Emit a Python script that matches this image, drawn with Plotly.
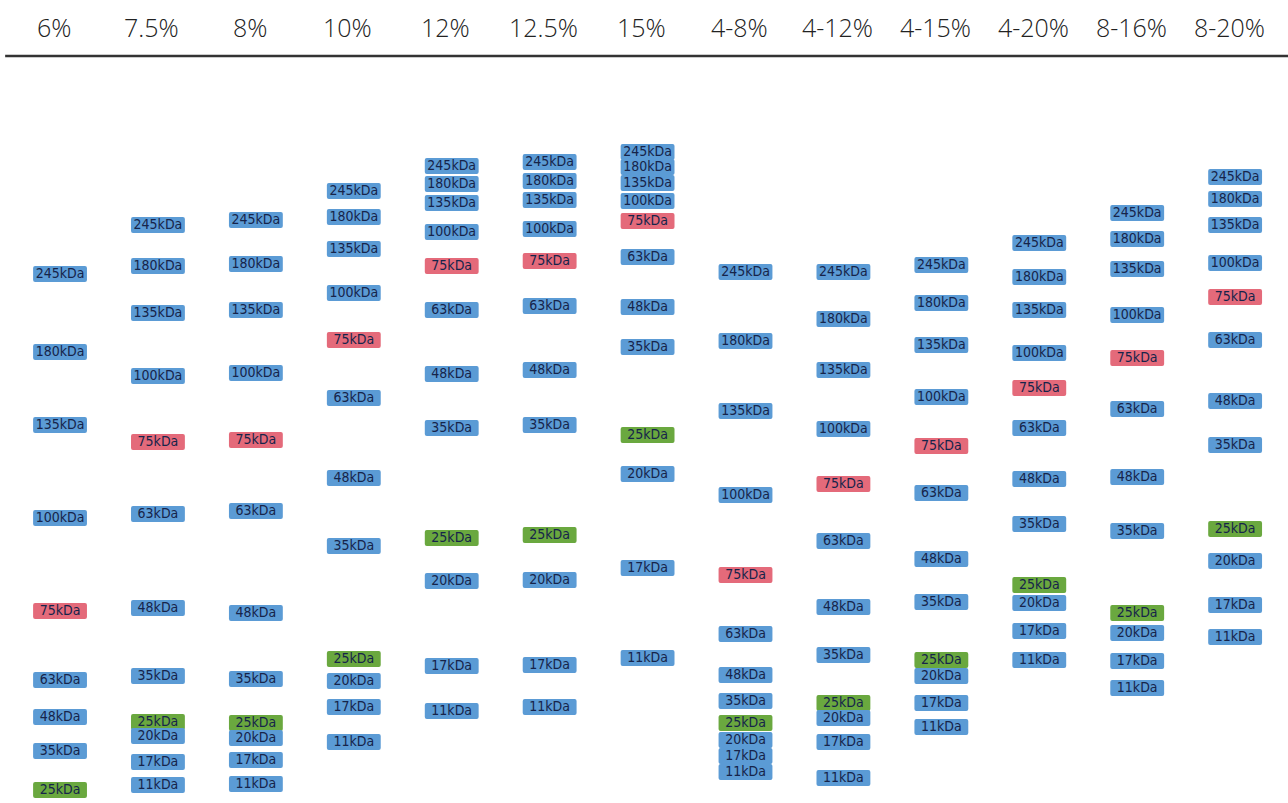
import plotly.graph_objects as go

gels = ["6%", "7.5%", "8%", "10%", "12%", "12.5%", "15%",
        "4-8%", "4-12%", "4-15%", "4-20%", "8-16%", "8-20%"]

markers = ["245kDa", "180kDa", "135kDa", "100kDa", "75kDa", "63kDa",
           "48kDa", "35kDa", "25kDa", "20kDa", "17kDa", "11kDa"]

# migration distance of each band below the gel top (px-like units)
mig_6 = [218, 296, 369, 462, 555, 624, 661, 695, 734, None, None, None]
mig_7_5 = [169, 210, 257, 320, 386, 458, 552, 620, 666, 680, 706, 729]
mig_8 = [164, 208, 254, 317, 384, 455, 557, 623, 667, 682, 704, 728]
mig_10 = [135, 161, 193, 237, 284, 342, 422, 490, 603, 625, 651, 686]
mig_12 = [110, 128, 147, 176, 210, 254, 318, 372, 482, 525, 610, 655]
mig_12_5 = [106, 125, 144, 173, 205, 250, 314, 369, 479, 524, 609, 651]
mig_15 = [96, 111, 127, 145, 165, 201, 251, 291, 379, 418, 512, 602]
mig_4_8 = [216, 285, 355, 439, 519, 578, 619, 645, 667, 684, 700, 716]
mig_4_12 = [216, 263, 314, 373, 428, 485, 551, 599, 647, 662, 686, 722]
mig_4_15 = [209, 247, 289, 341, 390, 437, 503, 546, 604, 620, 647, 671]
mig_4_20 = [187, 221, 254, 297, 332, 372, 423, 468, 529, 547, 575, 604]
mig_8_16 = [157, 183, 213, 259, 302, 353, 421, 475, 557, 577, 605, 632]
mig_8_20 = [121, 143, 169, 207, 241, 284, 345, 389, 473, 505, 549, 581]

migrations = [mig_6, mig_7_5, mig_8, mig_10, mig_12, mig_12_5, mig_15,
              mig_4_8, mig_4_12, mig_4_15, mig_4_20, mig_8_16, mig_8_20]

BLUE = "#5B9BD5"
RED = "#E46A7A"
GREEN = "#6AA83F"
color_of = {"75kDa": RED, "25kDa": GREEN}

BOX_H = 16

xs, ys, labels, cols = [], [], [], []
for gel, mig in zip(gels, migrations):
    for m, v in zip(markers, mig):
        if v is None:
            continue
        xs.append(gel)
        ys.append(v)
        labels.append(m)
        cols.append(color_of.get(m, BLUE))

fig = go.Figure()
fig.add_trace(go.Bar(
    x=xs, y=[BOX_H] * len(ys), base=[v - BOX_H / 2 for v in ys],
    width=0.55, marker=dict(color=cols, line=dict(width=0), cornerradius=2),
    hoverinfo="skip", showlegend=False,
))
fig.add_trace(go.Scatter(
    x=xs, y=ys, mode="text", text=labels,
    textfont=dict(family="DejaVu Sans Condensed, Open Sans", size=14, color="#16244A"),
    textposition="middle center", hoverinfo="skip", showlegend=False,
))

for g in gels:
    fig.add_annotation(
        x=g, xref="x", y=1, yref="paper", yanchor="bottom",
        text=g, showarrow=False, xshift=-6, yshift=10,
        font=dict(family="Open Sans", size=25, color="#222222", weight=300),
    )

fig.add_shape(type="line", xref="paper", yref="paper", x0=0.004, x1=1, y0=1, y1=1,
              line=dict(color="#333333", width=2.5))

fig.update_layout(
    width=1288, height=803,
    margin=dict(l=0, r=0, t=56, b=0),
    paper_bgcolor="white", plot_bgcolor="white",
    barmode="overlay",
    xaxis=dict(type="category", categoryorder="array", categoryarray=gels,
               range=[-0.613, 12.54], visible=False),
    yaxis=dict(range=[747, 0], visible=False),
)

fig.write_html("out.html", config={"displayModeBar": False},
               post_script="document.body.style.margin='0';")
